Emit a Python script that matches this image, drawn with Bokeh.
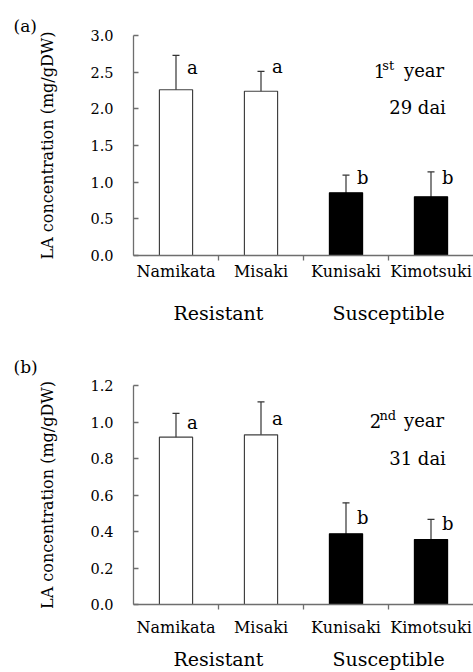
from bokeh.plotting import figure
from bokeh.layouts import column
from bokeh.models import (ColumnDataSource, Range1d, LinearAxis, FixedTicker,
                          NumeralTickFormatter, Whisker, TeeHead, Label)
from bokeh.core.properties import value
from bokeh.embed import file_html
from bokeh.resources import INLINE

FONT = "DejaVu Serif"

cultivars = ["Namikata", "Misaki", "Kunisaki", "Kimotsuki"]
groups = ["Resistant", "Resistant", "Susceptible", "Susceptible"]
group_names = ["Resistant", "Susceptible"]

# panel (a): 1st year, 29 dai
mean_a = [2.26, 2.24, 0.855, 0.80]
err_a = [0.47, 0.27, 0.24, 0.34]
letters_a = ["a", "a", "b", "b"]
letter_y_a = [2.56, 2.58, 1.07, 1.07]
yticks_a = [0.0, 0.5, 1.0, 1.5, 2.0, 2.5, 3.0]

# panel (b): 2nd year, 31 dai
mean_b = [0.917, 0.93, 0.387, 0.356]
err_b = [0.13, 0.18, 0.17, 0.11]
letters_b = ["a", "a", "b", "b"]
letter_y_b = [1.0, 1.02, 0.475, 0.445]
yticks_b = [0.0, 0.2, 0.4, 0.6, 0.8, 1.0, 1.2]

AXIS = "#6e6e6e"


def make_panel(tag, means, errs, letters, letter_y, yticks, ymax, ordinal, sup, dai,
               year_y, dai_y, height, top, bottom, xs_off, gs_off, tag_standoff,
               sup_off, ord_off):
    n = len(cultivars)
    xs = [i + 0.5 for i in range(n)]
    fills = ["white" if g == "Resistant" else "black" for g in groups]
    lines = ["#404040" if g == "Resistant" else "black" for g in groups]
    src = ColumnDataSource(dict(
        x=xs, top=means, fill=fills, line=lines,
        upper=[m + e for m, e in zip(means, errs)],
        lower=[m - e for m, e in zip(means, errs)],
        ly=letter_y, lt=letters,
    ))
    p = figure(width=473, height=height, output_backend="svg", toolbar_location=None,
               x_range=Range1d(0, n), y_range=Range1d(0, ymax), title=tag,
               min_border_left=133, min_border_right=0, min_border_top=top,
               min_border_bottom=bottom, x_axis_type=None, y_axis_type=None)
    p.outline_line_color = None
    p.xgrid.visible = False
    p.ygrid.visible = False
    p.background_fill_color = "white"

    p.title.text_font = FONT
    p.title.text_font_size = "17px"
    p.title.text_font_style = "normal"
    p.title.text_color = "black"
    p.title.align = "left"
    p.title.offset = -120
    p.title.standoff = tag_standoff

    p.vbar(x="x", top="top", width=0.39, bottom=0, source=src,
           fill_color="fill", line_color="line", line_width=1.2)
    w = Whisker(base="x", upper="upper", lower="lower", source=src,
                line_color="#333333", line_width=1.2,
                upper_head=TeeHead(size=7, line_color="#333333", line_width=1.2),
                lower_head=TeeHead(size=7, line_color="#333333", line_width=1.2))
    p.add_layout(w)
    p.text(x="x", y="ly", text="lt", source=src, x_offset=11,
           text_align="left", text_baseline="middle",
           text_font=value(FONT), text_font_size="18px", text_color="black")

    # y axis
    ya = LinearAxis(ticker=FixedTicker(ticks=yticks),
                    formatter=NumeralTickFormatter(format="0.0"),
                    axis_label="LA concentration (mg/gDW)")
    ya.axis_line_color = AXIS
    ya.axis_line_width = 1.3
    ya.major_tick_line_color = AXIS
    ya.major_tick_line_width = 1.3
    ya.major_tick_in = 5
    ya.major_tick_out = 0
    ya.minor_tick_line_color = None
    ya.major_label_standoff = 20
    ya.major_label_text_font = FONT
    ya.major_label_text_font_size = "14.5px"
    ya.major_label_text_color = "black"
    ya.axis_label_text_font = FONT
    ya.axis_label_text_font_size = "16px"
    ya.axis_label_text_font_style = "normal"
    ya.axis_label_text_color = "black"
    ya.axis_label_standoff = 30
    p.add_layout(ya, "left")

    # x axis with cultivar names and boundary ticks
    xa = LinearAxis(ticker=FixedTicker(ticks=xs, minor_ticks=list(range(1, n))),
                    major_label_overrides={x: c for x, c in zip(xs, cultivars)})
    xa.axis_line_color = AXIS
    xa.axis_line_width = 1.3
    xa.major_tick_line_color = None
    xa.major_tick_in = 0
    xa.major_tick_out = 0
    xa.minor_tick_line_color = AXIS
    xa.minor_tick_line_width = 1.3
    xa.minor_tick_in = 0
    xa.minor_tick_out = 5
    xa.major_label_standoff = xs_off
    xa.major_label_text_font = FONT
    xa.major_label_text_font_size = "16px"
    xa.major_label_text_color = "black"
    p.add_layout(xa, "below")

    # group axis
    gpos = []
    for g in group_names:
        idx = [i for i, gg in enumerate(groups) if gg == g]
        gpos.append(int(round((min(idx) + max(idx) + 1) / 2)))
    ga = LinearAxis(ticker=FixedTicker(ticks=gpos, minor_ticks=[]),
                    major_label_overrides={gp: g for gp, g in zip(gpos, group_names)})
    ga.axis_line_color = None
    ga.major_tick_line_color = None
    ga.minor_tick_line_color = None
    ga.major_tick_in = 0
    ga.major_tick_out = 0
    ga.major_label_standoff = gs_off
    ga.major_label_text_font = FONT
    ga.major_label_text_font_size = "19px"
    ga.major_label_text_color = "black"
    p.add_layout(ga, "below")

    # year / dai annotation
    ax = 3.655
    p.add_layout(Label(x=ax, y=year_y, text="year", text_font=FONT,
                       text_font_size="18px", text_baseline="middle",
                       text_align="right", text_color="black"))
    p.add_layout(Label(x=ax, y=year_y, text=sup, text_font=FONT, x_offset=sup_off,
                       y_offset=5, text_font_size="13px", text_baseline="middle",
                       text_align="right", text_color="black"))
    p.add_layout(Label(x=ax, y=year_y, text=ordinal, text_font=FONT,
                       x_offset=ord_off, text_font_size="18px",
                       text_baseline="middle", text_align="right", text_color="black"))
    p.add_layout(Label(x=ax + 0.02, y=dai_y, text=dai, text_font=FONT,
                       text_font_size="18px", text_baseline="middle",
                       text_align="right", text_color="black"))
    return p


p1 = make_panel("(a)", mean_a, err_a, letters_a, letter_y_a, yticks_a, 3.0,
                "1", "st", "29 dai", 2.52, 2.02, 340, 35, 85, 1, 18, 0, -50, -59)
p2 = make_panel("(b)", mean_b, err_b, letters_b, letter_y_b, yticks_b, 1.2,
                "2", "nd", "31 dai", 1.008, 0.80, 332, 45, 68, 8, 8, 18, -48, -63)

layout = column(p1, p2, spacing=0)
open("out.html", "w").write(file_html(layout, INLINE))
